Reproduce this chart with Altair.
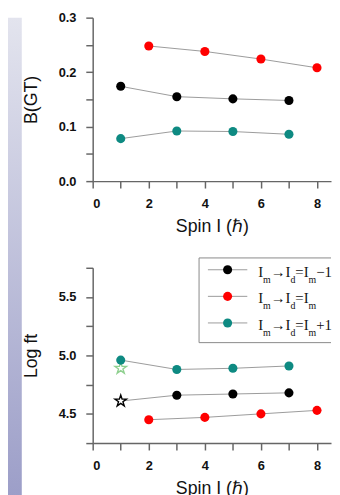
import altair as alt
import pandas as pd

# ---- data ----
spin_black = [1, 3, 5, 7]
spin_red = [2, 4, 6, 8]
spin_teal = [1, 3, 5, 7]
bgt_black = [0.174, 0.155, 0.151, 0.148]
bgt_red = [0.248, 0.238, 0.224, 0.208]
bgt_teal = [0.078, 0.092, 0.091, 0.086]
logft_black = [4.61, 4.66, 4.67, 4.68]
logft_red = [4.45, 4.47, 4.50, 4.53]
logft_teal = [4.96, 4.88, 4.89, 4.91]
black_marker = ["star", "circle", "circle", "circle"]
extra_star_spin = [1]
extra_star_logft = [4.89]

series_names = ["black", "red", "teal"]
series_colors = ["#000000", "#ff0000", "#0e8a82"]
legend_labels = ["I_m→I_d=I_m−1", "I_m→I_d=I_m", "I_m→I_d=I_m+1"]
x_ticks = [0, 1, 2, 3, 4, 5, 6, 7, 8]
top_y_ticks = [0, 0.05, 0.1, 0.15, 0.2, 0.25, 0.3]
bottom_y_ticks = [4.25, 4.5, 4.75, 5.0, 5.25, 5.5, 5.75]

STAR = ("M0,-1L0.225,-0.309L0.951,-0.309L0.363,0.118L0.588,0.809L0,0.382"
        "L-0.588,0.809L-0.363,0.118L-0.951,-0.309L-0.225,-0.309Z")

# ---- tables ----
def build(values_list, markers=None):
    rows = []
    spins = [spin_black, spin_red, spin_teal]
    for s, (name, xs, ys) in enumerate(zip(series_names, spins, values_list)):
        for i, (xv, yv) in enumerate(zip(xs, ys)):
            m = "circle"
            if markers is not None and s == 0:
                m = markers[i]
            rows.append({"series": name, "spin": xv, "val": yv, "marker": m})
    return pd.DataFrame(rows)

df_top = build([bgt_black, bgt_red, bgt_teal])
df_bot = build([logft_black, logft_red, logft_teal], black_marker)
star_rows = [{"spin": spin_black[0], "val": logft_black[0], "kind": "a"}]
for xv, yv in zip(extra_star_spin, extra_star_logft):
    star_rows.append({"spin": xv, "val": yv, "kind": "b"})
df_star = pd.DataFrame(star_rows)

# ---- hand-drawn legend (pixel layout, relative to the lower plot) ----
EM = {"I": 0.333, "m": 0.778, "d": 0.5, "→": 1.0, "=": 0.564, "−": 0.564, "+": 0.564, "1": 0.5}
MAIN_FS, SUB_FS = 15, 10
LEG_LEFT, LEG_TOP, LEG_BOTTOM, LEG_RIGHT = 108, -10, 76, 242
ROW0, ROW_STEP = 2, 27
SYM_X1, SYM_X2, SYM_CX, TEXT_X = 117, 157, 137, 168

def parse(label):
    segs, buf, i = [], "", 0
    while i < len(label):
        c = label[i]
        if c == "_" and i + 1 < len(label):
            if buf:
                segs.append((buf, False))
                buf = ""
            segs.append((label[i + 1], True))
            i += 2
            continue
        buf += c
        i += 1
    if buf:
        segs.append((buf, False))
    return segs

seg_rows, sym_rows = [], []
for r, (lbl, name) in enumerate(zip(legend_labels, series_names)):
    ry = ROW0 + ROW_STEP * r
    sym_rows.append({"series": name, "ypx": ry, "x1": SYM_X1, "x2": SYM_X2, "cx": SYM_CX})
    cur = TEXT_X
    for txt, sub in parse(lbl):
        fs = SUB_FS if sub else MAIN_FS
        seg_rows.append({"txt": txt, "sub": sub, "xpx": cur, "ypx": ry + (13 if sub else 7)})
        cur += sum(EM.get(c, 0.55) for c in txt) * fs
df_seg = pd.DataFrame(seg_rows)
df_sym = pd.DataFrame(sym_rows)
df_box = pd.DataFrame([
    {"x": LEG_LEFT, "x2": LEG_RIGHT, "y": LEG_TOP, "y2": LEG_TOP},
    {"x": LEG_LEFT, "x2": LEG_RIGHT, "y": LEG_BOTTOM, "y2": LEG_BOTTOM},
    {"x": LEG_LEFT, "x2": LEG_LEFT, "y": LEG_TOP, "y2": LEG_BOTTOM},
])

color_scale = alt.Scale(domain=series_names, range=series_colors)

common = dict(domainColor="#666", domainWidth=1.5, tickColor="#666", tickWidth=1.5, grid=False,
              tickSize=7, labelFont="Liberation Sans", labelFontSize=13, labelFontWeight="bold",
              labelColor="#111", titleFont="Liberation Sans", titleFontSize=18,
              titleFontWeight="normal", titleColor="#111")

x_axis = alt.Axis(values=x_ticks, title="Spin I (ℏ)", labelPadding=10, titlePadding=7,
                  labelExpr="datum.value % 2 == 0 ? datum.label : ''", **common)

def y_axis(vals, title, mult):
    return alt.Axis(values=vals, title=title, format=".1f", labelPadding=10, titlePadding=18,
                    labelExpr=f"abs(datum.value*{mult} - round(datum.value*{mult})) < 0.01 ? datum.label : ''",
                    **common)

def panel(df, y_dom, yax, height, stars=None, with_legend=False):
    xs = alt.Scale(domain=[0, 8.5], nice=False)
    ys = alt.Scale(domain=y_dom, nice=False, zero=False)
    base = alt.Chart(df).encode(
        x=alt.X("spin:Q", scale=xs, axis=x_axis),
        y=alt.Y("val:Q", scale=ys, axis=yax),
    )
    lines = base.mark_line(color="#9a9a9a", strokeWidth=1).encode(detail="series:N")
    pts = base.transform_filter("datum.marker == 'circle'").mark_point(
        filled=True, size=85, opacity=1
    ).encode(color=alt.Color("series:N", scale=color_scale, legend=None))
    layers = [lines]
    if stars is not None:
        st = alt.Chart(stars).mark_point(
            shape=STAR, fill="white", fillOpacity=1, size=150, strokeWidth=1.4, opacity=1
        ).encode(
            x=alt.X("spin:Q", scale=xs, axis=x_axis),
            y=alt.Y("val:Q", scale=ys, axis=yax),
            stroke=alt.Stroke("kind:N", scale=alt.Scale(domain=["a", "b"], range=["#000000", "#8fd08f"]),
                              legend=None),
        )
        layers.append(st)
    layers.append(pts)
    if with_legend:
        box = alt.Chart(df_box).mark_rule(color="#888", strokeWidth=1).encode(
            x=alt.X("x:Q", scale=None), x2="x2:Q",
            y=alt.Y("y:Q", scale=None), y2="y2:Q",
        )
        symline = alt.Chart(df_sym).mark_rule(color="#9a9a9a", strokeWidth=1).encode(
            x=alt.X("x1:Q", scale=None), x2="x2:Q",
            y=alt.Y("ypx:Q", scale=None),
        )
        symdot = alt.Chart(df_sym).mark_point(filled=True, size=85, opacity=1).encode(
            x=alt.X("cx:Q", scale=None),
            y=alt.Y("ypx:Q", scale=None),
            color=alt.Color("series:N", scale=color_scale, legend=None),
        )
        main_txt = alt.Chart(df_seg).transform_filter("!datum.sub").mark_text(
            align="left", baseline="alphabetic", font="Liberation Serif", fontSize=MAIN_FS, color="#111"
        ).encode(x=alt.X("xpx:Q", scale=None), y=alt.Y("ypx:Q", scale=None), text="txt:N")
        sub_txt = alt.Chart(df_seg).transform_filter("datum.sub").mark_text(
            align="left", baseline="alphabetic", font="Liberation Serif", fontSize=SUB_FS, color="#111"
        ).encode(x=alt.X("xpx:Q", scale=None), y=alt.Y("ypx:Q", scale=None), text="txt:N")
        layers += [box, symline, symdot, main_txt, sub_txt]
    return alt.layer(*layers).properties(width=242, height=height)

top = panel(df_top, [0, 0.3], y_axis(top_y_ticks, "B(GT)", 10), 166)
bottom = panel(df_bot, [4.25, 5.75], y_axis(bottom_y_ticks, "Log ft", 2), 178,
               stars=df_star, with_legend=True)

right = alt.vconcat(top, bottom, spacing=22)

strip = alt.Chart(pd.DataFrame({"a": [0]})).mark_rect(
    fill=alt.Gradient(
        gradient="linear", x1=0, x2=0, y1=0, y2=1,
        stops=[alt.GradientStop(color="#e3e4ee", offset=0), alt.GradientStop(color="#9c9ec8", offset=1)],
    )
).encode(opacity=alt.value(1)).properties(width=14, height=487)

chart = alt.hconcat(strip, right, spacing=0).properties(
    padding={"left": 0, "top": 0, "right": 0, "bottom": 0}
).configure_view(stroke=None)

chart.save("out.html", embed_options={"renderer": "svg", "actions": False})
